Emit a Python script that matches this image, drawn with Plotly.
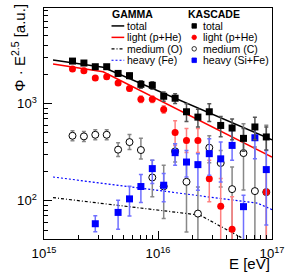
import plotly.graph_objects as go

# ---------------- data ----------------
energy = [1.778e15, 2.239e15, 2.818e15, 3.548e15, 4.467e15, 5.623e15, 7.079e15, 8.913e15,
          1.122e16, 1.413e16, 1.778e16, 2.239e16, 2.818e16, 3.548e16, 4.467e16, 5.623e16,
          7.079e16, 8.913e16]

total_y = [2735, 2612, 2393, 2393, 2042, 1936, 1578, 1541, 1189, 1135, 824, 726, 824, 596, 561, 439, 575, 454]
total_err = [90, 90, 80, 100, 130, 120, 140, 140, 130, 130, 170, 150, 170, 140, 135, 115, 150, 120]

light_y = [2265, 2178, 1834, 1889, 1629, 1425, 1107, 1107, 869, 505, 418, 418, 169, 88, 51, None, None, 123]
light_hi = [2380, 2290, 1925, 1985, 1710, 1500, 1195, 1195, 950, 667, 555, 555, 261, 170, 110, None, None, 200]
light_lo = [2150, 2070, 1745, 1795, 1550, 1350, 1025, 1025, 795, 370, 315, 315, 98, 0, 0, None, None, 0]

medium_y = [467, 460, 478, 478, 336, 402, 333, 174, 141, 323, 157, 74, 352, 245, 132, 310, 126, 123]
medium_hi = [526, 517, 538, 538, 396, 480, 441, 261, 232, 387, 242, 139, 467, 330, 223, 620, 357, 600]
medium_lo = [415, 408, 425, 425, 285, 337, 269, 110, 66, 251, 48, 0, 247, 139, 0, 129, 0, 0]

heavy_y = [None, None, 58.2, None, 76.1, 104.8, 140.4, 214.6, 144.8, 312.9, 250.7, 235.8, 305.6, 270.4, 371.6, 87.2, 445.6, 209.6]
heavy_hi = [None, None, 70.2, None, 101.7, 141.4, 186.3, 261, 190.8, 386.9, 330.3, 305.6, 435.2, 401.7, 529.1, 114.4, 595.5, 330.3]
heavy_lo = [None, None, 48.2, None, 51.0, 69.7, 96.3, 150.7, 97.7, 232, 176.1, 128.7, 183.2, 156.5, 261, 0, 271.6, 56.4]

# GAMMA model curves
model_e = [1.2e15, 3.3e15, 1e17]
gamma_total = [2800, 2364, 425]
gamma_light = [2549, 2126, 282]
medium_e = [1.2e15, 2.33e16, 1e17]
gamma_medium = [108, 71.4, 28.3]
heavy_e = [1.2e15, 7.48e16, 1e17]
gamma_heavy = [176, 94.7, 81.3]

FONT = "Liberation Sans, Arial, Helvetica, sans-serif"

# ---------------- figure ----------------
W, H = 291, 276
L, R, T, B = 44, 14, 7, 37
PW, PH = W - L - R, H - T - B


def pxx(x):
    return (x - L) / PW


def pxy(y):
    return (T + PH - y) / PH


def clean(xs, ys, his, los):
    ox, oy, ep, em = [], [], [], []
    for x, y, h, l in zip(xs, ys, his, los):
        if y is None:
            continue
        ox.append(x)
        oy.append(y)
        ep.append(h - y)
        em.append(y - l)
    return ox, oy, ep, em


fig = go.Figure()

# model lines
fig.add_trace(go.Scatter(x=model_e, y=gamma_total, mode="lines",
                         line=dict(color="black", width=1.5), name="total"))
fig.add_trace(go.Scatter(x=model_e, y=gamma_light, mode="lines",
                         line=dict(color="red", width=1.5), name="light (p+He)"))
fig.add_trace(go.Scatter(x=medium_e, y=gamma_medium, mode="lines",
                         line=dict(color="black", width=1.2, dash="3px,2px,1px,2px"), name="medium (O)"))
fig.add_trace(go.Scatter(x=heavy_e, y=gamma_heavy, mode="lines",
                         line=dict(color="blue", width=1.2, dash="2px,2px"), name="heavy (Fe)"))

# KASCADE medium (open circles)
x, y, ep, em = clean(energy, medium_y, medium_hi, medium_lo)
fig.add_trace(go.Scatter(x=x, y=y, mode="markers",
                         marker=dict(symbol="circle", size=7, color="white",
                                     line=dict(color="black", width=1)),
                         error_y=dict(type="data", symmetric=False, array=ep, arrayminus=em,
                                      color="#888888", thickness=1.5, width=2)))
# light
x, y, ep, em = clean(energy, light_y, light_hi, light_lo)
fig.add_trace(go.Scatter(x=x, y=y, mode="markers",
                         marker=dict(symbol="circle", size=7, color="red"),
                         error_y=dict(type="data", symmetric=False, array=ep, arrayminus=em,
                                      color="#ff8080", thickness=1.5, width=2)))
# heavy
x, y, ep, em = clean(energy, heavy_y, heavy_hi, heavy_lo)
fig.add_trace(go.Scatter(x=x, y=y, mode="markers",
                         marker=dict(symbol="square", size=7, color="blue"),
                         error_y=dict(type="data", symmetric=False, array=ep, arrayminus=em,
                                      color="#7070ff", thickness=1.5, width=2)))
# total
fig.add_trace(go.Scatter(x=energy, y=total_y, mode="markers",
                         marker=dict(symbol="square", size=7, color="black"),
                         error_y=dict(type="data", array=total_err,
                                      color="#555555", thickness=1.5, width=2)))

axis_common = dict(type="log", showline=True, linecolor="black", linewidth=1.2, mirror=True,
                   ticks="inside", ticklen=8, tickcolor="black", tickwidth=1,
                   showgrid=False, zeroline=False, dtick=1, exponentformat="power",
                   tickfont=dict(family=FONT, size=10.5, color="black"),
                   minor=dict(ticks="inside", ticklen=4, tickcolor="black", dtick="D1", showgrid=False))

fig.update_xaxes(range=[15, 17], ticklabelstandoff=3, **axis_common)
fig.update_yaxes(range=[1.608, 3.9826], ticklabelstandoff=4, **axis_common)

# manual legend
ann = []
shapes = []
rows = [25, 36.5, 48, 59.5]
ann.append(dict(text="<b>GAMMA</b>", x=pxx(111), y=pxy(13.5)))
ann.append(dict(text="<b>KASCADE</b>", x=pxx(189.5), y=pxy(13.5)))
g_names = ["total", "light (p+He)", "medium (O)", "heavy (Fe)"]
k_names = ["total", "light (p+He)", "medium (C)", "heavy (Si+Fe)"]
g_styles = [dict(color="black", width=1.5), dict(color="red", width=1.5),
            dict(color="black", width=1.2, dash="3px,2px,1px,2px"),
            dict(color="blue", width=1.2, dash="2px,2px")]
for ry, nm, st in zip(rows, g_names, g_styles):
    ann.append(dict(text=nm, x=pxx(127), y=pxy(ry)))
    shapes.append(dict(type="line", xref="paper", yref="paper",
                       x0=pxx(113), x1=pxx(126), y0=pxy(ry), y1=pxy(ry), line=st))
k_styles = [("rect", "black", "black"), ("circle", "red", "red"),
            ("circle", "white", "black"), ("rect", "blue", "blue")]
for ry, nm, (tp, fc, lc) in zip(rows, k_names, k_styles):
    ann.append(dict(text=nm, x=pxx(204), y=pxy(ry)))
    h = 2.3
    shapes.append(dict(type=tp, xref="paper", yref="paper",
                       x0=pxx(197.5 - h), x1=pxx(197.5 + h), y0=pxy(ry + h), y1=pxy(ry - h),
                       fillcolor=fc, line=dict(color=lc, width=0.8)))
annotations = []
for a in ann:
    a.update(xref="paper", yref="paper", xanchor="left", yanchor="middle", showarrow=False,
             font=dict(family=FONT, size=10.5, color="black"))
    annotations.append(a)

# axis titles as annotations (ROOT style placement)
annotations.append(dict(text="Φ · E<sup>2.5</sup> [a.u.]", xref="paper", yref="paper",
                        x=pxx(17.5), y=pxy(47.5), xanchor="center", yanchor="middle",
                        textangle=-90, showarrow=False,
                        font=dict(family=FONT, size=15, color="black")))
annotations.append(dict(text="E [eV]", xref="paper", yref="paper",
                        x=pxx(277), y=pxy(264), xanchor="right", yanchor="middle",
                        showarrow=False, font=dict(family=FONT, size=15, color="black")))

fig.update_layout(width=W, height=H, margin=dict(l=L, r=R, t=T, b=B),
                  paper_bgcolor="white", plot_bgcolor="white", showlegend=False,
                  annotations=annotations, shapes=shapes,
                  font=dict(family=FONT, color="black"))

fig.write_html("out.html", config={"displayModeBar": False},
               post_script="document.body.style.margin='0';")
